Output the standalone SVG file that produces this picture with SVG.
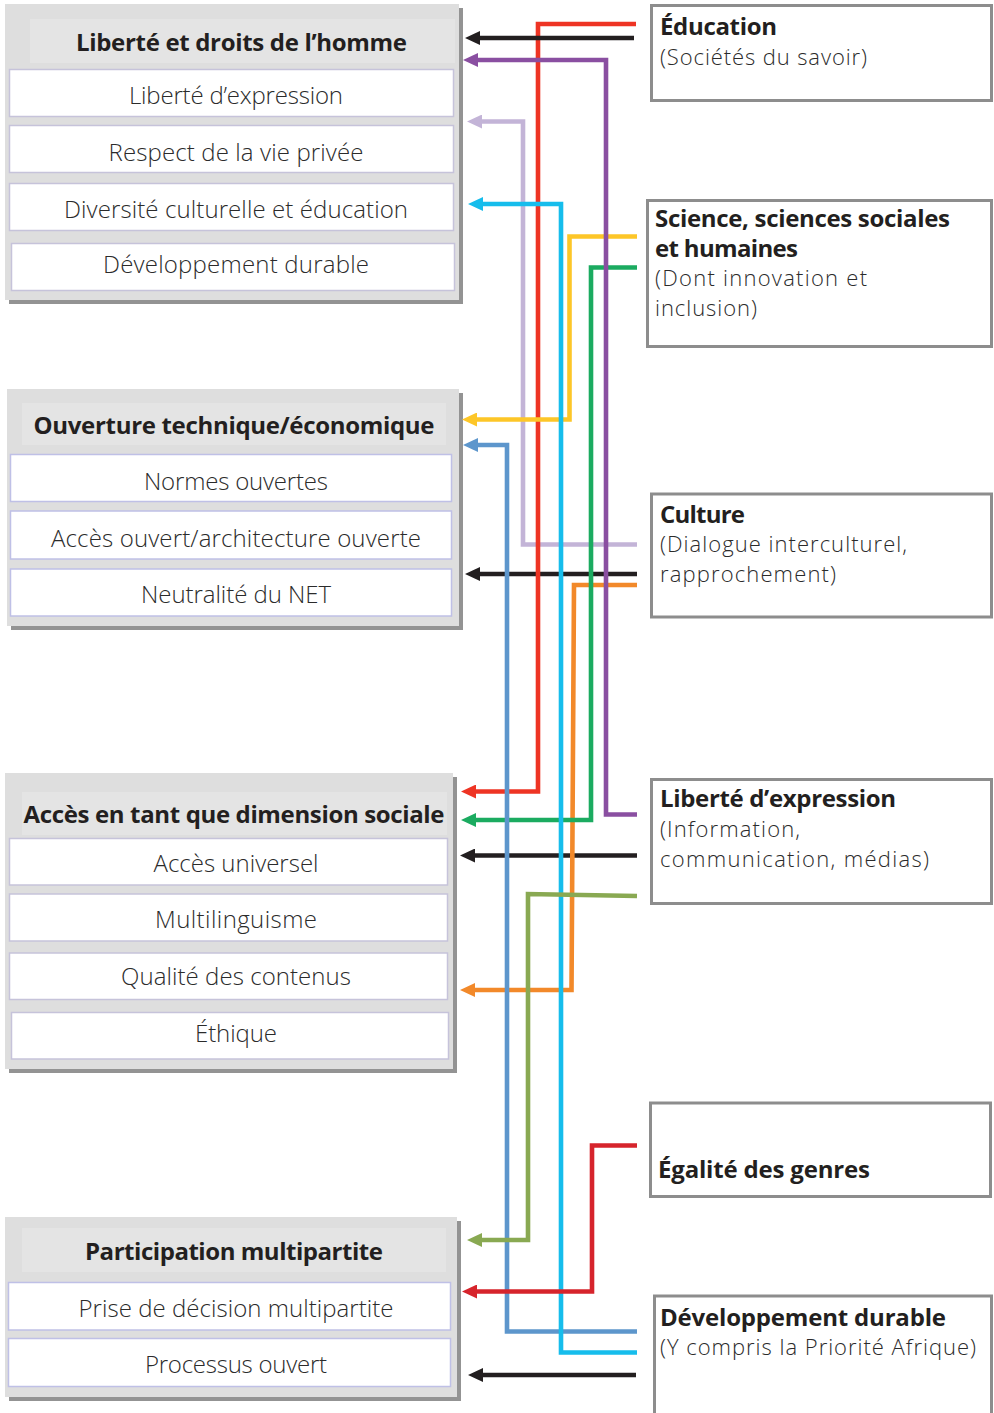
<svg xmlns="http://www.w3.org/2000/svg" width="994" height="1413" viewBox="0 0 994 1413">
<style>
.shadow{fill:#939393}
.panel{fill:#dedede}
.band{fill:#e4e4e4}
.item{fill:#ffffff;stroke:#c6c3da;stroke-width:1.5}
.item2{fill:#ffffff;stroke:#bfc0e6;stroke-width:1.5}
.hdr{font-family:"Open Sans","Noto Sans","Liberation Sans",sans-serif;font-weight:700;font-size:24px;fill:#231f20;text-anchor:middle}
.it{font-family:"Open Sans","Noto Sans","Liberation Sans",sans-serif;font-weight:300;font-size:24px;fill:#2b2b2b;text-anchor:middle}
.rbox{fill:#ffffff;stroke:#8d8d8d;stroke-width:3}
.rt{font-family:"Open Sans","Noto Sans","Liberation Sans",sans-serif;font-weight:700;font-size:24px;fill:#231f20}
.rs{font-family:"Open Sans","Noto Sans","Liberation Sans",sans-serif;font-weight:300;font-size:22px;fill:#2b2b2b}
.c{fill:none;stroke-width:4.6;stroke-linejoin:miter}
</style>
<defs>
<marker id="mBlack" markerUnits="userSpaceOnUse" markerWidth="16" markerHeight="14" refX="1" refY="7" orient="auto"><path d="M0,0 L15,7 L0,14 z" fill="#231f20"/></marker>
<marker id="mRed" markerUnits="userSpaceOnUse" markerWidth="16" markerHeight="14" refX="1" refY="7" orient="auto"><path d="M0,0 L15,7 L0,14 z" fill="#ee3424"/></marker>
<marker id="mRed2" markerUnits="userSpaceOnUse" markerWidth="16" markerHeight="14" refX="1" refY="7" orient="auto"><path d="M0,0 L15,7 L0,14 z" fill="#d6242c"/></marker>
<marker id="mPurple" markerUnits="userSpaceOnUse" markerWidth="16" markerHeight="14" refX="1" refY="7" orient="auto"><path d="M0,0 L15,7 L0,14 z" fill="#8a4fa1"/></marker>
<marker id="mLav" markerUnits="userSpaceOnUse" markerWidth="16" markerHeight="14" refX="1" refY="7" orient="auto"><path d="M0,0 L15,7 L0,14 z" fill="#c3b4d7"/></marker>
<marker id="mCyan" markerUnits="userSpaceOnUse" markerWidth="16" markerHeight="14" refX="1" refY="7" orient="auto"><path d="M0,0 L15,7 L0,14 z" fill="#16bdec"/></marker>
<marker id="mYellow" markerUnits="userSpaceOnUse" markerWidth="16" markerHeight="14" refX="1" refY="7" orient="auto"><path d="M0,0 L15,7 L0,14 z" fill="#fdc628"/></marker>
<marker id="mGreen" markerUnits="userSpaceOnUse" markerWidth="16" markerHeight="14" refX="1" refY="7" orient="auto"><path d="M0,0 L15,7 L0,14 z" fill="#1bab60"/></marker>
<marker id="mBlue" markerUnits="userSpaceOnUse" markerWidth="16" markerHeight="14" refX="1" refY="7" orient="auto"><path d="M0,0 L15,7 L0,14 z" fill="#5d96cc"/></marker>
<marker id="mOrange" markerUnits="userSpaceOnUse" markerWidth="16" markerHeight="14" refX="1" refY="7" orient="auto"><path d="M0,0 L15,7 L0,14 z" fill="#f2892a"/></marker>
<marker id="mOlive" markerUnits="userSpaceOnUse" markerWidth="16" markerHeight="14" refX="1" refY="7" orient="auto"><path d="M0,0 L15,7 L0,14 z" fill="#89a952"/></marker>
</defs>
<rect width="994" height="1413" fill="#ffffff"/>

<g id="panel-liberte">
<rect class="shadow" x="9" y="8" width="454" height="296"/>
<rect class="panel" x="5" y="4" width="454" height="296"/>
<rect class="band" x="30" y="19" width="425" height="44"/>
<text class="hdr" x="241.5" y="51" textLength="331">Liberté et droits de l’homme</text>
<rect class="item" x="9.5" y="69.5" width="444" height="47"/>
<text class="it" x="236" y="104" textLength="214">Liberté d’expression</text>
<rect class="item" x="9.5" y="125.5" width="444" height="47"/>
<text class="it" x="236" y="161" textLength="255">Respect de la vie privée</text>
<rect class="item" x="9.5" y="183.5" width="444" height="47"/>
<text class="it" x="236" y="218" textLength="344">Diversité culturelle et éducation</text>
<rect class="item" x="11.5" y="243.5" width="443" height="47"/>
<text class="it" x="236" y="273" textLength="266">Développement durable</text>
</g>

<g id="panel-ouverture">
<rect class="shadow" x="11" y="393" width="452" height="237"/>
<rect class="panel" x="7" y="389" width="452" height="237"/>
<rect class="band" x="22" y="403" width="424" height="42"/>
<text class="hdr" x="234" y="434" textLength="401">Ouverture technique/économique</text>
<rect class="item2" x="10.5" y="454.5" width="441" height="47"/>
<text class="it" x="236" y="490" textLength="184">Normes ouvertes</text>
<rect class="item2" x="10.5" y="511" width="441" height="48"/>
<text class="it" x="236" y="547" textLength="370">Accès ouvert/architecture ouverte</text>
<rect class="item2" x="10.5" y="569" width="441" height="47"/>
<text class="it" x="236" y="603" textLength="190">Neutralité du NET</text>
</g>

<g id="panel-acces">
<rect class="shadow" x="9" y="777" width="448" height="296"/>
<rect class="panel" x="5" y="773" width="448" height="296"/>
<rect class="band" x="22" y="792" width="425" height="43"/>
<text class="hdr" x="234" y="823" textLength="421">Accès en tant que dimension sociale</text>
<rect class="item" x="9.5" y="838.5" width="438" height="46.5"/>
<text class="it" x="236" y="872" textLength="165">Accès universel</text>
<rect class="item" x="9.5" y="894" width="438" height="47"/>
<text class="it" x="236" y="928" textLength="162">Multilinguisme</text>
<rect class="item" x="9.5" y="953" width="438" height="46.5"/>
<text class="it" x="236" y="985" textLength="230">Qualité des contenus</text>
<rect class="item" x="11.5" y="1012.5" width="437" height="46.5"/>
<text class="it" x="236" y="1042" textLength="82">Éthique</text>
</g>

<g id="panel-participation">
<rect class="shadow" x="9" y="1221" width="452" height="180"/>
<rect class="panel" x="5" y="1217" width="452" height="180"/>
<rect class="band" x="22" y="1228" width="424" height="44"/>
<text class="hdr" x="234" y="1260" textLength="298">Participation multipartite</text>
<rect class="item2" x="8.5" y="1282.5" width="442" height="47.5"/>
<text class="it" x="236" y="1317" textLength="315">Prise de décision multipartite</text>
<rect class="item2" x="8.5" y="1338.5" width="442" height="48"/>
<text class="it" x="236" y="1373" textLength="182">Processus ouvert</text>
</g>

<g id="box-education">
<rect class="rbox" x="651.5" y="5.5" width="340" height="95"/>
<text class="rt" x="660" y="35" textLength="117">Éducation</text>
<text class="rs" x="660" y="65" textLength="207">(Sociétés du savoir)</text>
</g>

<g id="box-science">
<rect class="rbox" x="647.5" y="200.5" width="344" height="146"/>
<text class="rt" x="655" y="227" textLength="295">Science, sciences sociales</text>
<text class="rt" x="655" y="257" textLength="143">et humaines</text>
<text class="rs" x="655" y="285.5" textLength="212">(Dont innovation et</text>
<text class="rs" x="655" y="316" textLength="102">inclusion)</text>
</g>

<g id="box-culture">
<rect class="rbox" x="651.5" y="494" width="340" height="123"/>
<text class="rt" x="660" y="523" textLength="85">Culture</text>
<text class="rs" x="660" y="552" textLength="247">(Dialogue interculturel,</text>
<text class="rs" x="660" y="582" textLength="176">rapprochement)</text>
</g>

<g id="box-liberte-expression">
<rect class="rbox" x="651.5" y="779.5" width="340" height="124"/>
<text class="rt" x="660" y="807" textLength="236">Liberté d’expression</text>
<text class="rs" x="660" y="836.5" textLength="140">(Information,</text>
<text class="rs" x="660" y="866.5" textLength="269">communication, médias)</text>
</g>

<g id="box-egalite">
<rect class="rbox" x="650.5" y="1103" width="340" height="93.5"/>
<text class="rt" x="658" y="1178" textLength="212">Égalité des genres</text>
</g>

<g id="box-developpement">
<rect class="rbox" x="654.5" y="1296" width="337" height="130"/>
<text class="rt" x="660" y="1326" textLength="286">Développement durable</text>
<text class="rs" x="660" y="1355" textLength="316">(Y compris la Priorité Afrique)</text>
</g>

<g id="connectors">
<path class="c" stroke="#231f20" stroke-width="5" d="M637,574 H479" marker-end="url(#mBlack)"/>
<path class="c" stroke="#231f20" stroke-width="5" d="M637,855.5 H474" marker-end="url(#mBlack)"/>
<path class="c" stroke="#231f20" stroke-width="5" d="M636,1375 H482" marker-end="url(#mBlack)"/>
<path class="c" stroke="#c3b4d7" d="M637,544.5 H523 V121.5 H481" marker-end="url(#mLav)"/>
<path class="c" stroke="#ee3424" d="M636,24 H538 V791.5 H475" marker-end="url(#mRed)"/>
<path class="c" stroke="#231f20" stroke-width="5" d="M634,38 H479" marker-end="url(#mBlack)"/>
<path class="c" stroke="#fdc628" d="M637,236.5 H569.5 V419.5 H476" marker-end="url(#mYellow)"/>
<path class="c" stroke="#f2892a" d="M637,585 H574 L571.5,990 H474" marker-end="url(#mOrange)"/>
<path class="c" stroke="#1bab60" d="M637,267.5 H591 V820 H475" marker-end="url(#mGreen)"/>
<path class="c" stroke="#5d96cc" d="M637,1331.5 H507 V445 H477" marker-end="url(#mBlue)"/>
<path class="c" stroke="#16bdec" d="M637,1352.5 H561 V204 H482" marker-end="url(#mCyan)"/>
<path class="c" stroke="#8a4fa1" d="M637,814.5 H606 V60 H477" marker-end="url(#mPurple)"/>
<path class="c" stroke="#89a952" d="M637,896 L528,894 V1240 H481" marker-end="url(#mOlive)"/>
<path class="c" stroke="#d6242c" d="M637,1145.5 H592 V1291.5 H476" marker-end="url(#mRed2)"/>
</g>
</svg>
